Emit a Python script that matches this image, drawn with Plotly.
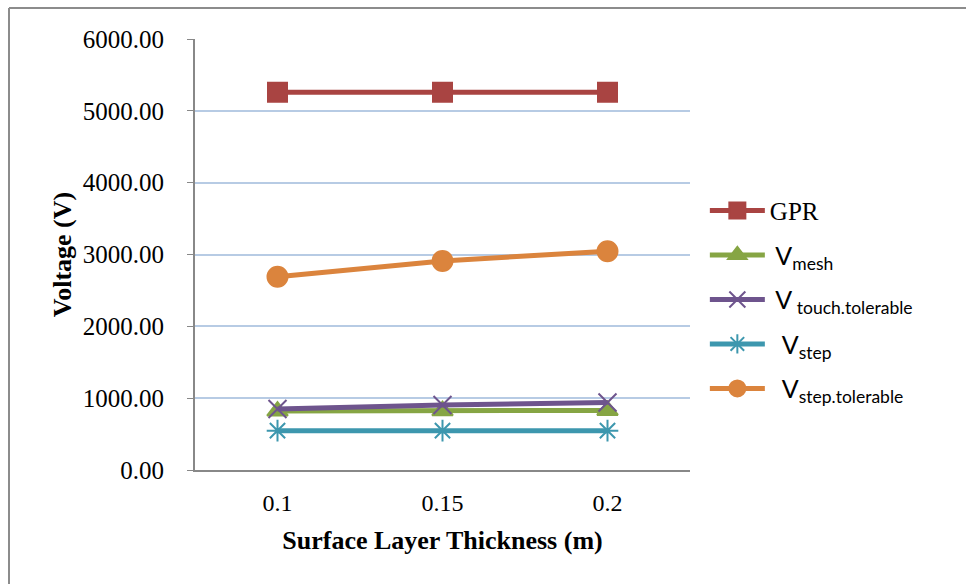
import plotly.graph_objects as go

categories = ["0.1", "0.15", "0.2"]
gpr = [5260, 5260, 5260]
v_mesh = [820, 825, 830]
v_touch_tol = [850, 905, 940]
v_step = [548, 548, 548]
v_step_tol = [2690, 2910, 3045]

SANS = "font-family:Lato, Carlito, sans-serif"
names = ["GPR",
         f"<span style='{SANS}'> V<sub>mesh</sub></span>",
         f"<span style='{SANS}'> V<sub> touch.tolerable</sub></span>",
         f"<span style='{SANS}'>  V<sub>step</sub></span>",
         f"<span style='{SANS}'>  V<sub>step.tolerable</sub></span>"]
series = [gpr, v_mesh, v_touch_tol, v_step, v_step_tol]
colors = ["#A94442", "#86A544", "#6E548D", "#3D97AE", "#DB843D"]
symbols = ["square", "triangle-up", "x-thin", "asterisk", "circle"]
sizes = [19, 18, 18, 18, 20]

fig = go.Figure()
for i, (nm, ys, c, s, sz) in enumerate(zip(names, series, colors, symbols, sizes)):
    fig.add_trace(go.Scatter(
        x=categories, y=ys, name=nm, mode="lines+markers",
        line=dict(color=c, width=5),
        marker=dict(symbol=s, size=sz, color=c, line=dict(color=c, width=2)),
        legendgroup=str(i),
    ))

fig.update_layout(
    width=966, height=584,
    margin=dict(l=195, r=276, t=39, b=114),
    paper_bgcolor="white", plot_bgcolor="white",
    font=dict(family="Liberation Serif, Times New Roman, serif", size=25, color="black"),
    showlegend=True,
    legend=dict(x=1.03, y=0.655, xanchor="left", yanchor="top",
                font=dict(size=25), tracegroupgap=9, itemwidth=55,
                bgcolor="rgba(0,0,0,0)"),
    xaxis=dict(type="category", range=[-0.5, 2.5], showgrid=False,
               showline=True, linecolor="#888888", linewidth=2,
               ticks="", tickfont=dict(size=24), ticklabelstandoff=10,
               title=dict(text="<b>Surface Layer Thickness (m)</b>", font=dict(size=26), standoff=16)),
    yaxis=dict(range=[0, 6000], tickvals=[0, 1000, 2000, 3000, 4000, 5000, 6000],
               tickformat=".2f", showgrid=True, gridcolor="#B7CBE4", gridwidth=2,
               showline=True, linecolor="#888888", linewidth=2,
               ticks="outside", ticklen=6, tickcolor="#888888", tickwidth=1,
               tickfont=dict(size=25), zeroline=False, ticklabelstandoff=18,
               title=dict(text="<b>Voltage (V)</b>", font=dict(size=26), standoff=4)),
    shapes=[
        dict(type="line", xref="paper", yref="paper",
             x0=(9 - 195) / 495, x1=(966 - 195) / 495,
             y0=(470 - 8) / 431, y1=(470 - 8) / 431,
             line=dict(color="#8C8C8C", width=2)),
        dict(type="line", xref="paper", yref="paper",
             x0=(9 - 195) / 495, x1=(9 - 195) / 495,
             y0=(470 - 8) / 431, y1=(470 - 590) / 431,
             line=dict(color="#8C8C8C", width=2)),
    ],
)

fig.write_html("out.html")
